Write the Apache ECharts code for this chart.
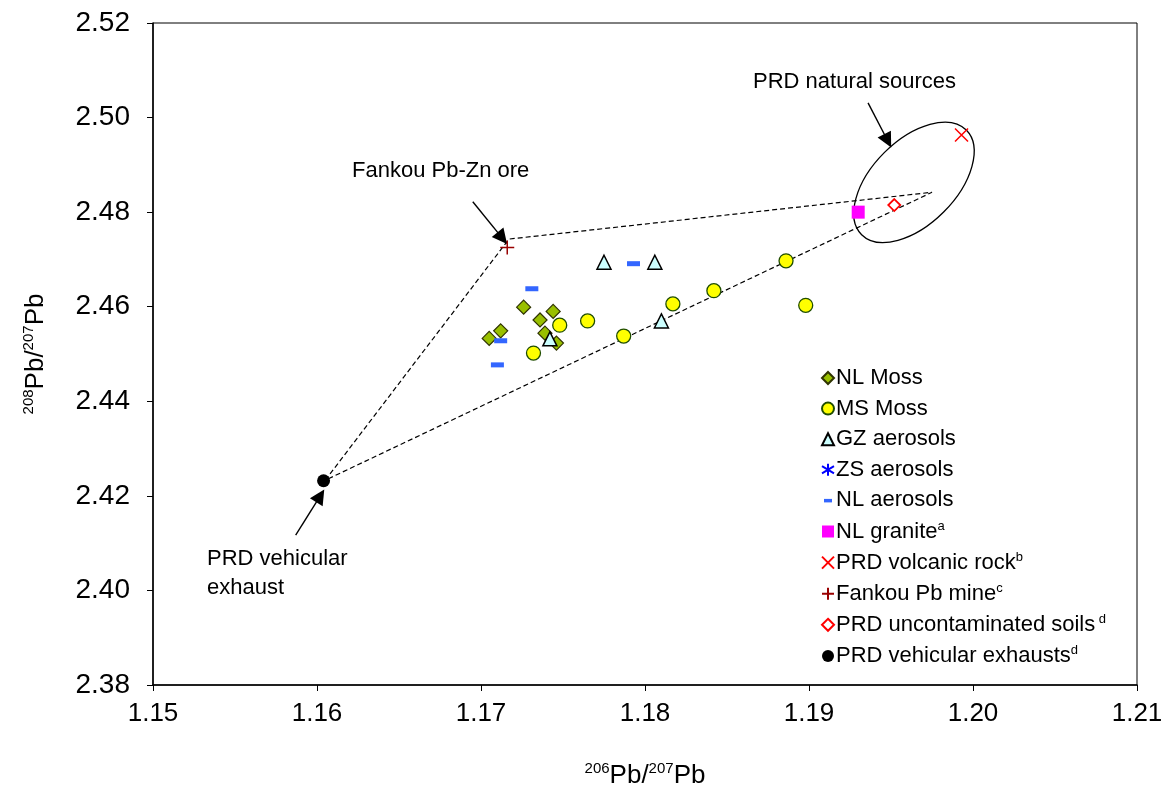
<!DOCTYPE html>
<html>
<head>
<meta charset="utf-8">
<script src="https://cdn.jsdelivr.net/npm/echarts@6/dist/echarts.min.js"></script>
<style>
  html, body { margin: 0; padding: 0; background: #fff; }
  #chart { width: 1168px; height: 809px; }
</style>
</head>
<body>
<div id="chart"></div>
<script>
// 206Pb/207Pb (x) vs 208Pb/207Pb (y)
const nlMoss = [[1.1705, 2.4533], [1.1712, 2.4549], [1.1726, 2.4599], [1.1744, 2.4590],
                [1.1736, 2.4572], [1.1739, 2.4544], [1.1746, 2.4523]];
const msMoss = [[1.1732, 2.4502], [1.1748, 2.4561], [1.1765, 2.4570], [1.1787, 2.4538],
                [1.1817, 2.4606], [1.1842, 2.4634], [1.1886, 2.4697], [1.1898, 2.4603]];
const gzAerosols = [[1.1775, 2.4694], [1.1806, 2.4694], [1.1810, 2.4570], [1.1742, 2.4532]];
const zsAerosols = [];
const nlAerosols = [[1.1731, 2.4638], [1.1793, 2.4691], [1.1712, 2.4528], [1.1710, 2.4477]];
const nlGranite = [[1.1930, 2.4800]];
const prdVolcanic = [[1.1993, 2.4963]];
const fankouMine = [[1.1716, 2.4725]];
const prdSoils = [[1.1952, 2.4815]];
const prdExhaust = [[1.1604, 2.4232]];

// mixing envelope drawn as dashed lines
const envelope = [[1.1605, 2.4233], [1.1717, 2.4743], [1.1975, 2.4842], [1.1605, 2.4233]];

// annotation arrows [from, to]
const arrows = [
  [[1.1936, 2.5031], [1.1948, 2.4951]],
  [[1.1695, 2.4822], [1.1713, 2.4745]],
  [[1.1587, 2.4117], [1.1602, 2.4200]]
];
const naturalCentre = [1.1964, 2.4863];

const legendNames = ['NL Moss', 'MS Moss', 'GZ aerosols', 'ZS aerosols', 'NL aerosols',
  'NL granite', 'PRD volcanic rock', 'Fankou Pb mine', 'PRD uncontaminated soils', 'PRD vehicular exhausts'];
const legendSup = {
  'NL granite': 'a', 'PRD volcanic rock': 'b', 'Fankou Pb mine': 'c',
  'PRD uncontaminated soils': ' d', 'PRD vehicular exhausts': 'd'
};

const FONT = 'Liberation Sans, Arial, sans-serif';

const chart = echarts.init(document.getElementById('chart'));

function pts(name, data, symbol, size, style) {
  return {
    name: name, type: 'scatter', data: data, symbol: symbol, symbolSize: size,
    itemStyle: Object.assign({ opacity: 1 }, style), z: 5, emphasis: { disabled: true }
  };
}

const nameRich = {
  main: { fontSize: 26, lineHeight: 30, fontFamily: FONT, color: '#000' },
  sup: { fontSize: 15, lineHeight: 17, verticalAlign: 'top', fontFamily: FONT, color: '#000' }
};

chart.setOption({
  animation: false,
  grid: { left: 153, right: 31, top: 23, bottom: 124, show: true, borderColor: '#000', borderWidth: 1 },
  xAxis: {
    type: 'value', min: 1.15, max: 1.21, interval: 0.01,
    name: '{sup|206}{main|Pb/}{sup|207}{main|Pb}',
    nameLocation: 'middle', nameGap: 76,
    nameTextStyle: { rich: nameRich },
    axisLine: { lineStyle: { color: '#000', width: 1.5 } },
    axisTick: { length: 6, lineStyle: { color: '#000' } },
    axisLabel: { fontSize: 26, color: '#000', fontFamily: FONT, margin: 16,
      formatter: v => v.toFixed(2) },
    splitLine: { show: false }
  },
  yAxis: {
    type: 'value', min: 2.38, max: 2.52, interval: 0.02,
    name: '{sup|208}{main|Pb/}{sup|207}{main|Pb}',
    nameLocation: 'middle', nameGap: 102, nameRotate: 90,
    nameTextStyle: { rich: nameRich },
    axisLine: { lineStyle: { color: '#000', width: 1.5 } },
    axisTick: { length: 6, lineStyle: { color: '#000' } },
    axisLabel: { fontSize: 28, color: '#000', fontFamily: FONT, margin: 23,
      formatter: v => v.toFixed(2) },
    splitLine: { show: false }
  },
  legend: {
    data: legendNames.map(n => n === 'NL aerosols'
      ? { name: n, icon: 'path://M0,0M12,12M2,4.5h8v3.5h-8z' } : n),
    orient: 'vertical', left: 816, top: 362,
    itemWidth: 12, itemHeight: 12, itemGap: 8.6, selectedMode: false,
    textStyle: {
      fontFamily: FONT, color: '#000', padding: [0, 0, 0, -3],
      rich: {
        n: { fontSize: 22, lineHeight: 23, fontFamily: FONT, color: '#000' },
        s: { fontSize: 13, lineHeight: 14, verticalAlign: 'top', fontFamily: FONT, color: '#000' }
      }
    },
    formatter: name => legendSup[name] ? '{n|' + name + '}{s|' + legendSup[name] + '}' : '{n|' + name + '}'
  },
  series: [
    {
      name: 'envelope', type: 'line', data: envelope, symbol: 'none', z: 2,
      lineStyle: { color: '#000', width: 1.2, type: [5, 3] }, emphasis: { disabled: true }
    },
    {
      name: 'arrows', type: 'lines', coordinateSystem: 'cartesian2d', z: 3,
      symbol: ['none', 'triangle'], symbolSize: [0, 15],
      lineStyle: { color: '#000', width: 1.4, opacity: 1 },
      data: arrows.map(a => ({ coords: a }))
    },
    pts('NL Moss', nlMoss, 'diamond', 14, { color: '#99c000', borderColor: '#2f3300', borderWidth: 1.2 }),
    pts('MS Moss', msMoss, 'circle', 14, { color: '#ffff00', borderColor: '#1f4d00', borderWidth: 1.3 }),
    pts('GZ aerosols', gzAerosols, 'triangle', 14, { color: '#ccffff', borderColor: '#000', borderWidth: 1.5 }),
    pts('ZS aerosols', zsAerosols, 'path://M5,0L5,10M0,2L10,8M0,8L10,2', 14,
      { color: 'rgba(0,0,0,0)', borderColor: '#0000ff', borderWidth: 1.8 }),
    pts('NL aerosols', nlAerosols, 'rect', [13, 5], { color: '#3366ff' }),
    pts('NL granite', nlGranite, 'rect', 13, { color: '#ff00ff' }),
    pts('PRD volcanic rock', prdVolcanic, 'path://M0,0L10,10M10,0L0,10', 13,
      { color: 'rgba(0,0,0,0)', borderColor: '#ff0000', borderWidth: 1.5 }),
    pts('Fankou Pb mine', fankouMine, 'path://M5,0L5,10M0,5L10,5', 14,
      { color: 'rgba(0,0,0,0)', borderColor: '#990000', borderWidth: 1.5 }),
    pts('PRD uncontaminated soils', prdSoils, 'diamond', 12,
      { color: '#ffffff', borderColor: '#ff0000', borderWidth: 1.8 }),
    pts('PRD vehicular exhausts', prdExhaust, 'circle', 13, { color: '#000' })
  ]
});

const c = chart.convertToPixel({ gridIndex: 0 }, naturalCentre);
const noteStyle = { fontSize: 22, fontFamily: FONT, fill: '#000' };
chart.setOption({
  graphic: [
    { type: 'ellipse', x: c[0], y: c[1], rotation: Math.PI / 4, z: 4,
      shape: { cx: 0, cy: 0, rx: 74, ry: 42 },
      style: { fill: 'none', stroke: '#000', lineWidth: 1.3 } },
    { type: 'text', left: 753, top: 71, style: Object.assign({ text: 'PRD natural sources' }, noteStyle) },
    { type: 'text', left: 352, top: 160, style: Object.assign({ text: 'Fankou Pb-Zn ore' }, noteStyle) },
    { type: 'text', left: 207, top: 544, style: Object.assign({ text: 'PRD vehicular\nexhaust', lineHeight: 29 }, noteStyle) }
  ]
});
</script>
</body>
</html>
